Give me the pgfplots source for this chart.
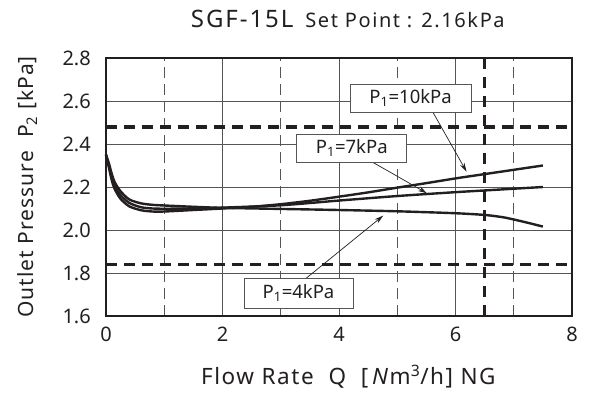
\documentclass[border=0pt]{standalone}
\usepackage{fontspec}
\setmainfont{Noto Sans}
\usepackage{pgfplots}
\pgfplotsset{compat=1.18}
\usetikzlibrary{arrows.meta}
\definecolor{ink}{HTML}{231F20}
\definecolor{gridc}{HTML}{555555}
\begin{document}
\begin{tikzpicture}
\useasboundingbox (-106pt,-83pt) rectangle (487pt,316pt);
\begin{axis}[
  at={(0,0)}, anchor=south west,
  scale only axis, width=466pt, height=258pt,
  xmin=0, xmax=8, ymin=1.6, ymax=2.8,
  xtick={0,2,4,6,8}, minor xtick={1,3,5,7},
  ytick={1.6,1.8,2.0,2.2,2.4,2.6,2.8},
  grid=both,
  major grid style={gridc, line width=0.8pt},
  minor grid style={gridc, line width=0.8pt, dash pattern=on 11pt off 6pt},
  major tick length=0pt, minor tick length=0pt,
  axis line style={ink, line width=1.4pt},
  /pgf/number format/assume math mode=true,
  tick label style={font=\fontsize{20}{24}\selectfont, text=ink, inner sep=0pt},
  yticklabel style={/pgf/number format/.cd, fixed, fixed zerofill, precision=1, /tikz/.cd, xshift=-15pt},
  xticklabel style={yshift=-11pt},
  xlabel={Flow Rate\ \ Q\ \ [\,\textit{N}m\textsuperscript{3}/h]\ NG},
  ylabel={Outlet Pressure\ \ P\textsubscript{2} [kPa]},
  xlabel style={at={(axis description cs:0.52,-0.236)}, anchor=center, font=\fontsize{22.5}{24}\selectfont\addfontfeature{LetterSpace=7}, text=ink},
  ylabel style={at={(axis description cs:-0.168,0.5)}, anchor=center, rotate=0, font=\fontsize{21}{24}\selectfont\addfontfeature{LetterSpace=5}, text=ink},
  clip=false,
]
% reference dashed lines
\addplot[ink, line width=3.5pt, dash pattern=on 11pt off 7pt] coordinates {(0,2.48) (8,2.48)};
\addplot[ink, line width=3.5pt, dash pattern=on 11pt off 7pt] coordinates {(0,1.84) (8,1.84)};
\addplot[ink, line width=3.5pt, dash pattern=on 11pt off 8pt] coordinates {(6.5,1.6) (6.5,2.8)};
% P1 = 10 kPa
\addplot[ink, line width=2.4pt, smooth, tension=0.45] coordinates {
 (0,2.35) (0.05,2.29) (0.1,2.23) (0.15,2.19) (0.25,2.145) (0.4,2.11) (0.6,2.092) (0.8,2.086) (1.0,2.086)
 (1.5,2.093) (2,2.10) (2.5,2.108) (3,2.12) (3.5,2.136) (4,2.155) (4.5,2.175) (5,2.197) (5.5,2.218)
 (6,2.24) (6.5,2.26) (7,2.28) (7.5,2.30)};
% P1 = 7 kPa
\addplot[ink, line width=2.4pt, smooth, tension=0.45] coordinates {
 (0,2.35) (0.05,2.30) (0.1,2.245) (0.15,2.205) (0.25,2.162) (0.4,2.126) (0.6,2.106) (0.8,2.100) (1,2.099)
 (1.5,2.100) (2,2.104) (3,2.115) (4,2.137) (5,2.158) (6,2.176) (6.5,2.184) (7,2.192) (7.5,2.20)};
% P1 = 4 kPa
\addplot[ink, line width=2.4pt, smooth, tension=0.45] coordinates {
 (0,2.35) (0.05,2.31) (0.1,2.26) (0.15,2.222) (0.25,2.18) (0.4,2.142) (0.6,2.124) (0.8,2.117) (1,2.114)
 (1.5,2.108) (2,2.103) (3,2.098) (4,2.093) (5,2.087) (6,2.078) (6.5,2.07) (6.8,2.06) (7,2.049)
 (7.25,2.033) (7.5,2.016)};
% annotations
\draw[ink, line width=0.7pt, -{Stealth[length=9pt,width=5pt]}] (axis cs:5.61,2.549) -- (axis cs:6.19,2.271);
\draw[ink, line width=0.7pt, -{Stealth[length=9pt,width=5pt]}] (axis cs:4.56,2.318) -- (axis cs:5.51,2.171);
\draw[ink, line width=0.7pt, -{Stealth[length=9pt,width=5pt]}] (axis cs:3.42,1.772) -- (axis cs:4.76,2.067);
\node[draw=gridc, line width=0.9pt, fill=white, minimum width=121pt, minimum height=28pt, inner sep=0pt,
  font=\fontsize{18.5}{20}\selectfont, text=ink] at (axis cs:5.23,2.614) {P\textsubscript{1}=10kPa};
\node[draw=gridc, line width=0.9pt, fill=white, minimum width=110pt, minimum height=28pt, inner sep=0pt,
  font=\fontsize{18.5}{20}\selectfont, text=ink] at (axis cs:4.22,2.381) {P\textsubscript{1}=7kPa};
\node[draw=gridc, line width=0.9pt, fill=white, minimum width=109pt, minimum height=30pt, inner sep=0pt,
  font=\fontsize{18.5}{20}\selectfont, text=ink] at (axis cs:3.305,1.707) {P\textsubscript{1}=4kPa};
% title
\node[anchor=base, text=ink, yshift=30pt] at (rel axis cs:0.519,1)
  {\fontsize{24}{26}\selectfont\addfontfeature{LetterSpace=8}SGF-15L\hspace{12pt}\fontsize{20}{22}\selectfont\addfontfeature{LetterSpace=8}Set Point : 2.16kPa};
\end{axis}
\end{tikzpicture}
\end{document}
